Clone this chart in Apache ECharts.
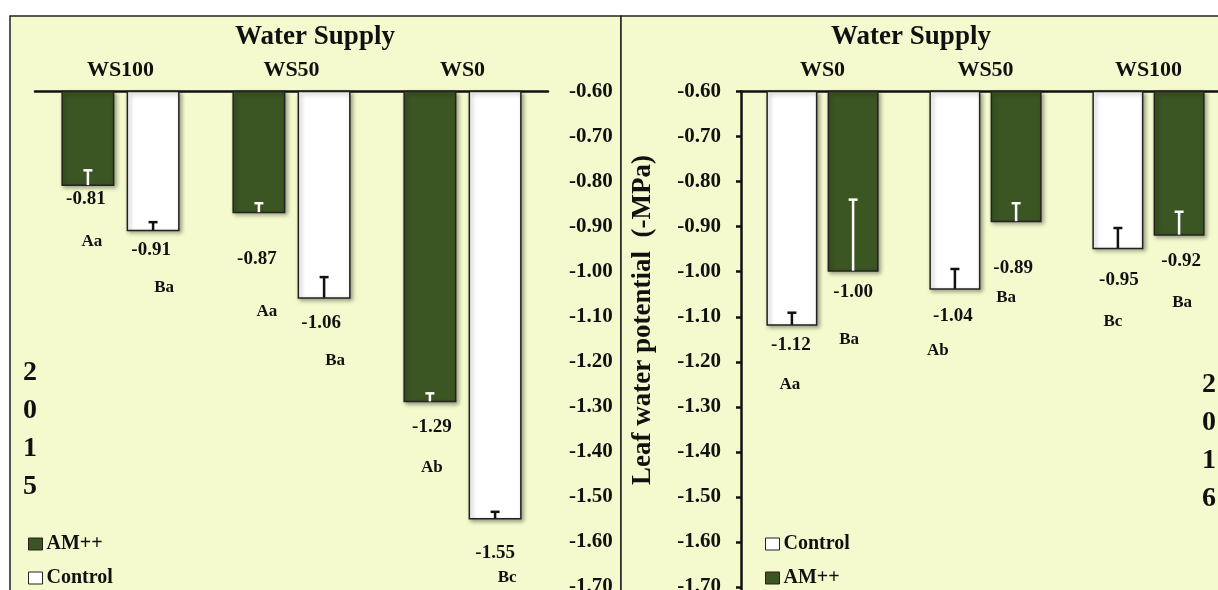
<!DOCTYPE html>
<html>
<head>
<meta charset="utf-8">
<title>Leaf water potential 2015 / 2016</title>
<script src="https://cdn.jsdelivr.net/npm/echarts@6/dist/echarts.min.js"></script>
<style>
  html, body { margin: 0; padding: 0; background: #ffffff; }
  #chart { width: 1218px; height: 590px; }
</style>
</head>
<body>
<div id="chart"></div>
<script>
// ---- 2015 (left panel) ----
const categories2015 = ['WS100', 'WS50', 'WS0'];
const am2015 = [-0.81, -0.87, -1.29];
const control2015 = [-0.91, -1.06, -1.55];
const amErr2015 = [0.035, 0.022, 0.02];
const controlErr2015 = [0.02, 0.048, 0.017];
const amLetters2015 = ['Aa', 'Aa', 'Ab'];
const controlLetters2015 = ['Ba', 'Ba', 'Bc'];

// ---- 2016 (right panel) ----
const categories2016 = ['WS0', 'WS50', 'WS100'];
const control2016 = [-1.12, -1.04, -0.95];
const am2016 = [-1.00, -0.89, -0.92];
const controlErr2016 = [0.029, 0.046, 0.047];
const amErr2016 = [0.16, 0.042, 0.053];
const controlLetters2016 = ['Aa', 'Ab', 'Bc'];
const amLetters2016 = ['Ba', 'Ba', 'Ba'];

// value axis range shared by both panels
const yMin = -1.8, yMax = -0.6, yStep = 0.1;

// ---- look & layout ----
const SERIF = '"Liberation Serif", "Times New Roman", serif';
const BG = '#F4FACD';
const GREEN = '#3B5523';
const INK = '#111111';
const leftPanel = { barWidth: 53, gapRatio: 0.23 };
const rightPanel = { barWidth: 51, gapRatio: 0.20 };

// label placement (text centre relative to the bar end) for value / letter labels
const offAm2015 = { value: [[-2, 13], [-2, 46], [2, 25]], letter: [[4, 56], [8, 98], [2, 65]] };
const offCtl2015 = { value: [[-2, 19], [-3, 24], [0, 34]], letter: [[11, 56], [11, 62], [12, 58]] };
const offCtl2016 = { value: [[-1, 19], [-2, 26], [1, 31]], letter: [[-2, 59], [-17, 61], [-5, 72]] };
const offAm2016 = { value: [[0, 20], [-3, 46], [2, 25]], letter: [[-4, 68], [-10, 75], [3, 67]] };

const barStyle = (fill) => ({
  color: fill,
  borderColor: '#222222',
  borderWidth: 1.5,
  shadowColor: 'rgba(0,0,0,0.35)',
  shadowBlur: 4,
  shadowOffsetX: 2,
  shadowOffsetY: 2
});

function barSeries(name, axis, values, fill, panel) {
  return {
    type: 'bar', name, xAxisIndex: axis, yAxisIndex: axis,
    data: values, barWidth: panel.barWidth, barGap: Math.round(panel.gapRatio * 100) + '%',
    clip: true, itemStyle: barStyle(fill), emphasis: { disabled: true }
  };
}

// error bars (inner half) plus value and letter labels for one bar series
function noteSeries(axis, values, errs, letters, side, panel, errColor, offsets) {
  return {
    type: 'custom', xAxisIndex: axis, yAxisIndex: axis, z: 5, silent: true,
    data: values.map((v, i) => [i, v, errs[i]]),
    renderItem(params, api) {
      const i = params.dataIndex;
      const cat = api.value(0), v = api.value(1), e = api.value(2);
      const end = api.coord([cat, v]);
      const cap = api.coord([cat, v + e]);
      const x = end[0] + side * panel.barWidth * (1 + panel.gapRatio) / 2;
      const y0 = end[1], y1 = cap[1];
      const vo = offsets.value[i], lo = offsets.letter[i];
      return {
        type: 'group',
        children: [
          { type: 'line', shape: { x1: x, y1: y0 - 1, x2: x, y2: y1 }, style: { stroke: errColor, lineWidth: 2.5 } },
          { type: 'line', shape: { x1: x - 4.5, y1: y1, x2: x + 4.5, y2: y1 }, style: { stroke: errColor, lineWidth: 2.5 } },
          { type: 'text', x: x + vo[0], y: y0 + vo[1],
            style: { text: v.toFixed(2), fill: INK, font: 'bold 19px ' + SERIF, align: 'center', verticalAlign: 'middle' } },
          { type: 'text', x: x + lo[0], y: y0 + lo[1],
            style: { text: letters[i], fill: INK, font: 'bold 17px ' + SERIF, align: 'center', verticalAlign: 'middle' } }
        ]
      };
    }
  };
}

const catAxis = (data, grid) => ({
  type: 'category', gridIndex: grid, data, position: 'top',
  axisLine: { onZero: false, lineStyle: { color: INK, width: 2.5 } },
  axisTick: { show: false },
  axisLabel: { color: INK, fontFamily: SERIF, fontWeight: 'bold', fontSize: 22, margin: 10 }
});

const valueLabel = { color: INK, fontFamily: SERIF, fontWeight: 'bold', fontSize: 21, formatter: (v) => v.toFixed(2) };

// one legend entry per component so each sits exactly on its own row
const legendEntry = (name, left, top) => ({
  data: [name], left, top, padding: 0, itemWidth: 14, itemHeight: 12,
  selectedMode: false, icon: 'rect',
  itemStyle: { borderColor: '#222222', borderWidth: 1, shadowBlur: 0, shadowOffsetX: 0, shadowOffsetY: 0 },
  textStyle: { color: INK, fontFamily: SERIF, fontWeight: 'bold', fontSize: 20, padding: [0, 0, 0, -1] }
});

const chart = echarts.init(document.getElementById('chart'), null, { renderer: 'canvas' });

chart.setOption({
  animation: false,
  backgroundColor: '#ffffff',
  title: [
    { text: 'Water Supply', left: 315, top: 24, textAlign: 'center', padding: 0,
      textStyle: { color: INK, fontFamily: SERIF, fontWeight: 'bold', fontSize: 27, lineHeight: 27 } },
    { text: 'Water Supply', left: 911, top: 24, textAlign: 'center', padding: 0,
      textStyle: { color: INK, fontFamily: SERIF, fontWeight: 'bold', fontSize: 27, lineHeight: 27 } }
  ],
  legend: [
    legendEntry('AM++', 28, 534),
    legendEntry('Control', 28, 568),
    legendEntry('Control', 765, 534),
    legendEntry('AM++', 765, 568)
  ],
  // both plot areas run past the bottom (and the right one past the right) edge of the page
  grid: [
    { left: 35, top: 91.5, width: 513, height: 540.6, outerBoundsMode: 'none', containLabel: false },
    { left: 741, top: 91.5, width: 489, height: 540.6, outerBoundsMode: 'none', containLabel: false }
  ],
  xAxis: [catAxis(categories2015, 0), catAxis(categories2016, 1)],
  yAxis: [
    { type: 'value', gridIndex: 0, position: 'right', min: yMin, max: yMax, interval: yStep,
      axisLine: { show: false }, axisTick: { show: false }, splitLine: { show: false },
      axisLabel: Object.assign({ margin: 21 }, valueLabel) },
    { type: 'value', gridIndex: 1, position: 'left', min: yMin, max: yMax, interval: yStep,
      axisLine: { show: true, onZero: false, lineStyle: { color: INK, width: 2.5 } },
      axisTick: { show: true, length: 5, lineStyle: { color: INK, width: 2.5 } },
      splitLine: { show: false },
      axisLabel: Object.assign({ margin: 20 }, valueLabel) }
  ],
  graphic: [
    { type: 'rect', z: -10, shape: { x: 10, y: 16, width: 611, height: 600 },
      style: { fill: BG, stroke: '#222222', lineWidth: 1.5 } },
    { type: 'rect', z: -10, shape: { x: 621, y: 16, width: 620, height: 600 },
      style: { fill: BG, stroke: '#222222', lineWidth: 1.5 } },
    { type: 'text', x: 30, y: 430, z: 10,
      style: { text: '2\n0\n1\n5', fill: INK, font: 'bold 28px ' + SERIF, lineHeight: 38, align: 'center', verticalAlign: 'middle' } },
    { type: 'text', x: 1209, y: 442, z: 10,
      style: { text: '2\n0\n1\n6', fill: INK, font: 'bold 28px ' + SERIF, lineHeight: 38, align: 'center', verticalAlign: 'middle' } },
    { type: 'text', x: 643, y: 320, rotation: Math.PI / 2, z: 10,
      style: { text: 'Leaf water potential  (-MPa)', fill: INK, font: 'bold 27px ' + SERIF, align: 'center', verticalAlign: 'middle' } }
  ],
  series: [
    barSeries('AM++', 0, am2015, GREEN, leftPanel),
    barSeries('Control', 0, control2015, '#ffffff', leftPanel),
    barSeries('Control', 1, control2016, '#ffffff', rightPanel),
    barSeries('AM++', 1, am2016, GREEN, rightPanel),
    noteSeries(0, am2015, amErr2015, amLetters2015, -1, leftPanel, '#ffffff', offAm2015),
    noteSeries(0, control2015, controlErr2015, controlLetters2015, 1, leftPanel, INK, offCtl2015),
    noteSeries(1, control2016, controlErr2016, controlLetters2016, -1, rightPanel, INK, offCtl2016),
    noteSeries(1, am2016, amErr2016, amLetters2016, 1, rightPanel, '#ffffff', offAm2016)
  ]
});
</script>
</body>
</html>
